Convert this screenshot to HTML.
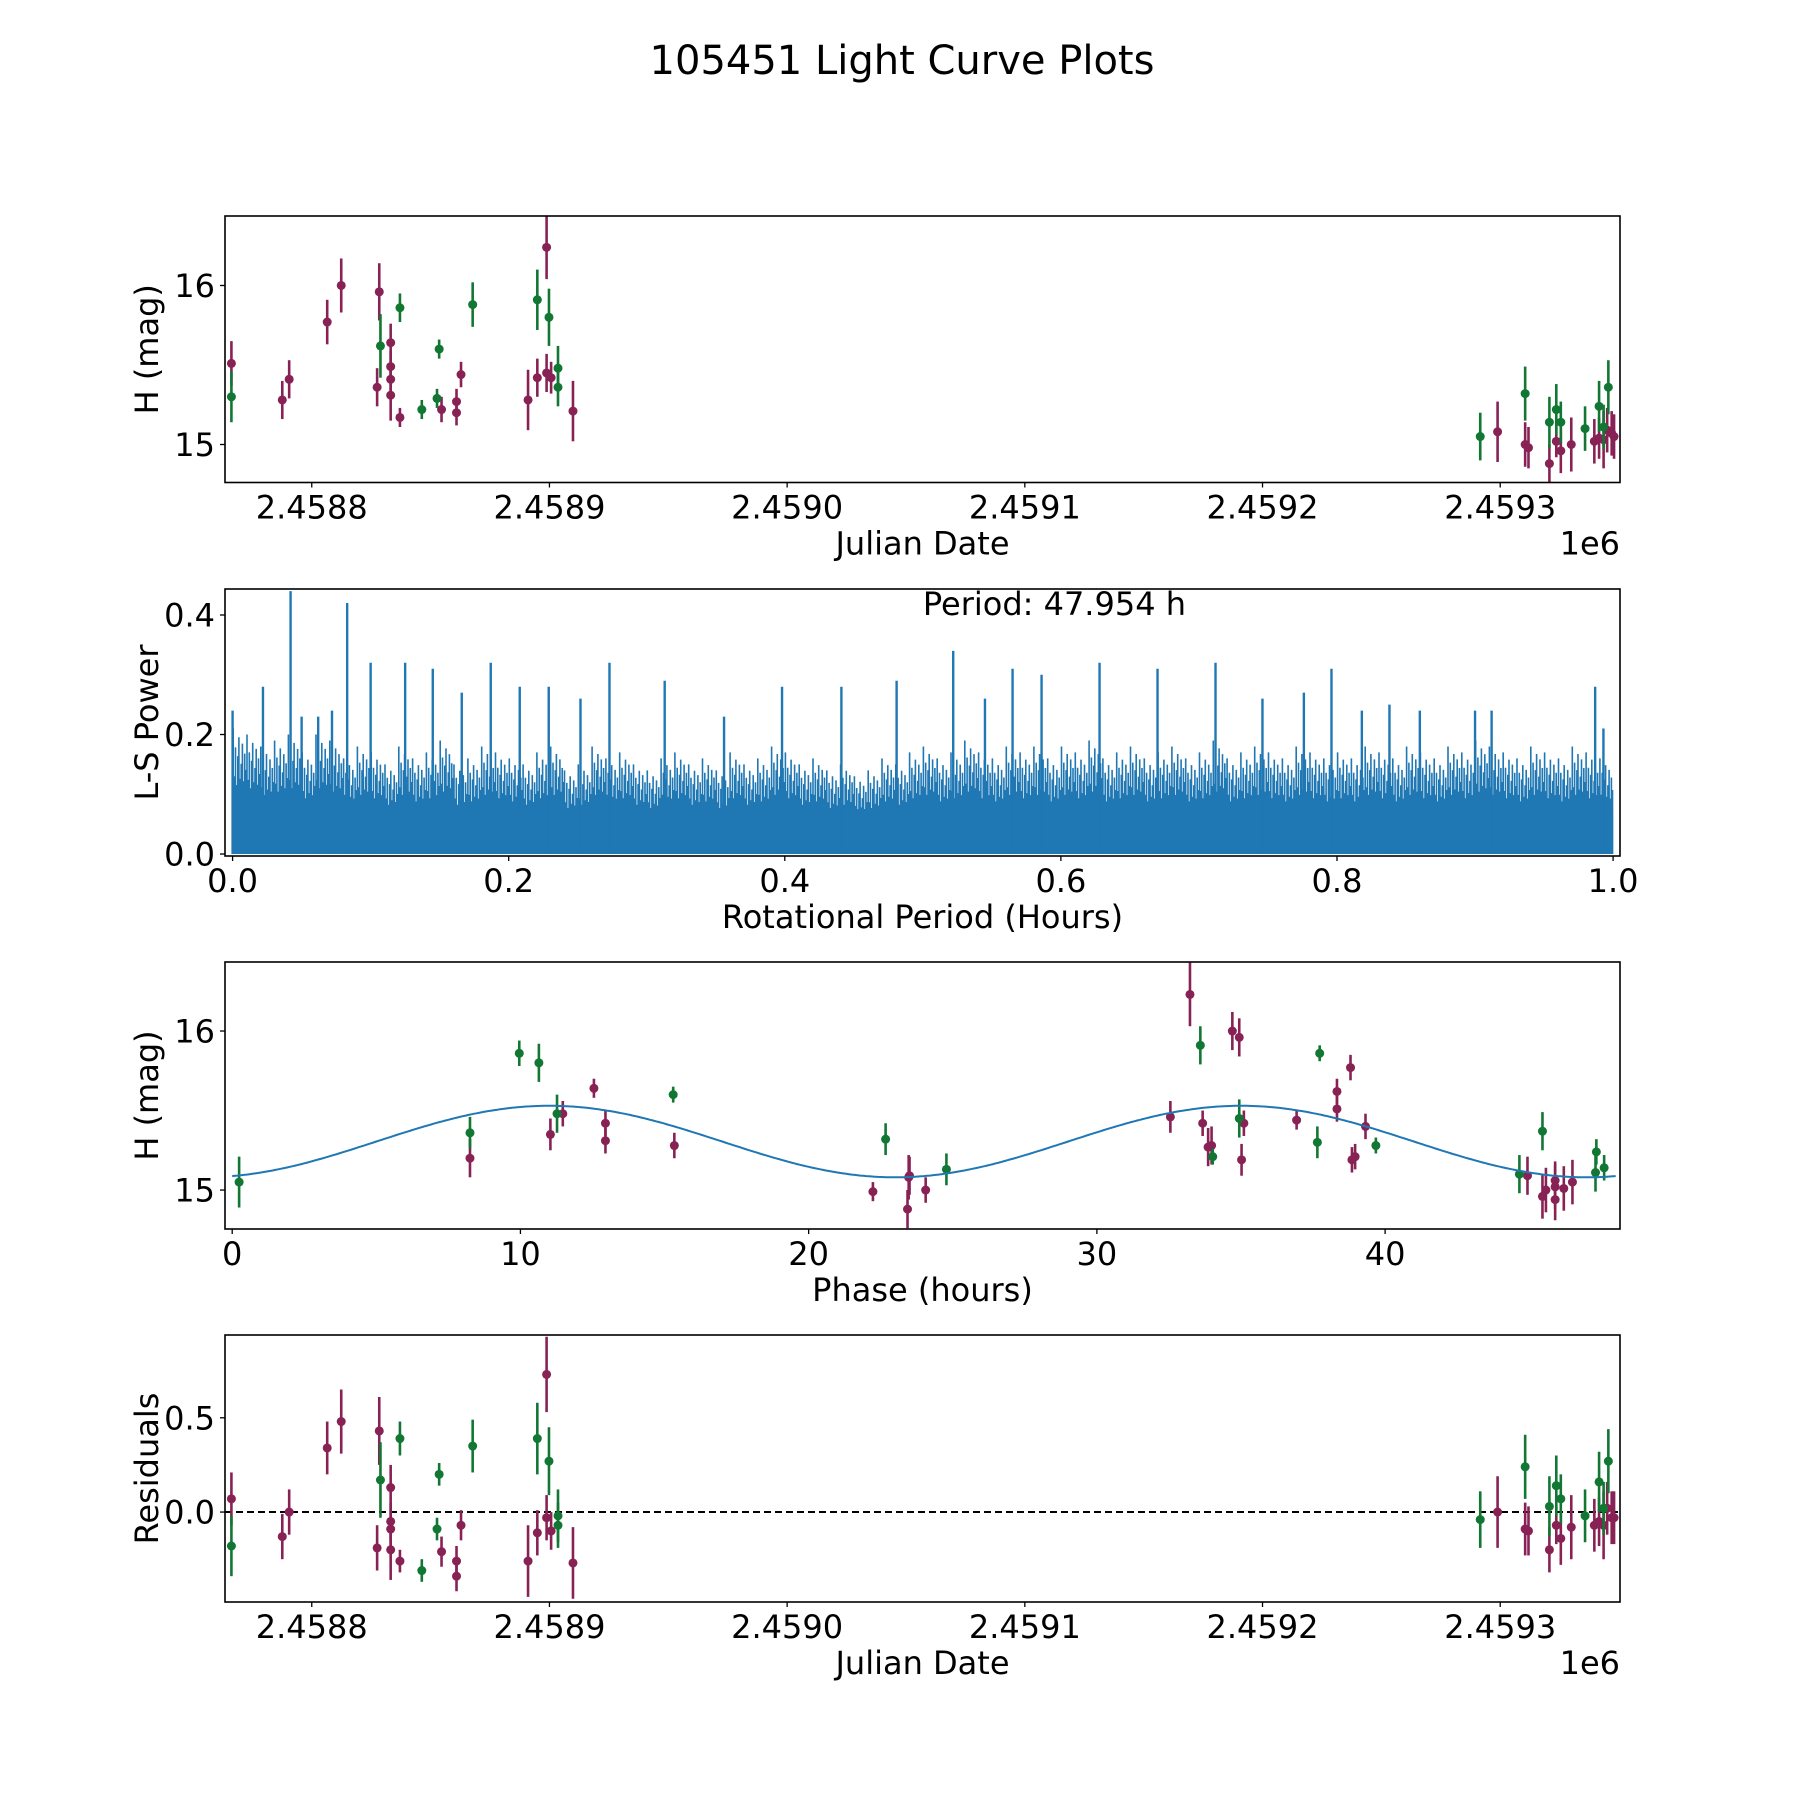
<!DOCTYPE html>
<html><head><meta charset="utf-8"><title>105451 Light Curve Plots</title>
<style>
html,body{margin:0;padding:0;background:#fff;}
svg{display:block;font-family:"DejaVu Sans","Liberation Sans",sans-serif;}
</style></head>
<body>
<svg id="fig" width="1800" height="1800" viewBox="0 0 1800 1800" xmlns="http://www.w3.org/2000/svg">
<rect width="1800" height="1800" fill="#fff"/>
<text x="902" y="74" font-size="40" text-anchor="middle">105451 Light Curve Plots</text>
</svg>
<script>
// ---------- DATA ----------
const jdBase = 2458800;
// maroon series: days since jdBase, magnitude, error, residual
const tMaroon = [-33.8,-12.4,-9.5,6.5,12.4,28.4,27.5,33.2,33.2,33.2,33.2,37.1,54.6,60.9,60.9,62.8,91.0,94.9,98.8,98.8,100.7,109.9,498.9,510.5,511.9,520.7,523.6,525.5,529.9,539.6,541.6,543.5,545.0,546.9,547.9];
const magMaroon = [15.51,15.28,15.41,15.77,16.0,15.96,15.36,15.64,15.49,15.41,15.31,15.17,15.22,15.27,15.20,15.44,15.28,15.42,16.24,15.45,15.42,15.21,15.08,15.0,14.98,14.88,15.02,14.96,15.0,15.02,15.04,15.03,15.09,15.07,15.05];
const errMaroon = [0.14,0.12,0.12,0.14,0.17,0.18,0.12,0.12,0.1,0.1,0.16,0.06,0.08,0.08,0.08,0.08,0.19,0.12,0.2,0.12,0.1,0.19,0.19,0.14,0.13,0.12,0.1,0.14,0.17,0.14,0.13,0.18,0.14,0.14,0.14];
const resMaroon = [0.07,-0.13,0.0,0.34,0.48,0.43,-0.19,0.13,-0.05,-0.09,-0.2,-0.26,-0.21,-0.26,-0.34,-0.07,-0.26,-0.11,0.73,-0.03,-0.1,-0.27,0.0,-0.09,-0.1,-0.2,-0.07,-0.14,-0.08,-0.07,-0.05,-0.07,0.02,-0.03,-0.03];
// green series
const tGreen = [-33.8,28.9,37.1,46.3,52.7,53.6,67.7,94.9,99.8,103.6,103.6,491.6,510.5,520.7,523.6,525.5,535.7,541.6,543.5,545.5];
const magGreen = [15.30,15.62,15.86,15.22,15.29,15.60,15.88,15.91,15.80,15.48,15.36,15.05,15.32,15.14,15.22,15.14,15.10,15.24,15.11,15.36];
const errGreen = [0.16,0.2,0.09,0.06,0.06,0.06,0.14,0.19,0.18,0.14,0.12,0.15,0.17,0.16,0.16,0.13,0.14,0.16,0.14,0.17];
const resGreen = [-0.18,0.17,0.39,-0.31,-0.09,0.2,0.35,0.39,0.27,-0.02,-0.07,-0.04,0.24,0.03,0.14,0.07,-0.02,0.16,0.02,0.27];
// phase-folded
const phMaroon = [8.25,11.04,11.47,12.55,12.95,12.95,15.34,22.23,23.47,23.5,23.43,24.06,32.55,33.23,33.67,33.86,33.98,34.7,34.94,35.02,35.1,36.93,38.33,38.33,38.8,38.85,38.96,39.32,44.94,45.46,45.58,45.9,45.9,45.9,46.2,46.5];
const phMagMaroon = [15.20,15.35,15.48,15.64,15.42,15.31,15.28,14.99,15.08,15.09,14.88,15.0,15.46,16.23,15.42,15.27,15.28,16.0,15.96,15.19,15.42,15.44,15.51,15.62,15.77,15.19,15.21,15.40,15.09,14.96,15.0,15.02,14.94,15.06,15.01,15.05];
const phErrMaroon = [0.12,0.1,0.08,0.06,0.08,0.08,0.08,0.06,0.14,0.12,0.12,0.08,0.1,0.2,0.08,0.12,0.12,0.12,0.12,0.1,0.08,0.06,0.08,0.08,0.08,0.08,0.08,0.08,0.12,0.14,0.14,0.14,0.13,0.12,0.14,0.14];
const phGreen = [0.24,8.25,9.96,10.64,11.27,15.3,22.67,24.78,33.59,34.02,34.94,37.65,37.73,39.68,44.66,45.46,47.3,47.33,47.6];
const phMagGreen = [15.05,15.36,15.86,15.80,15.48,15.60,15.32,15.13,15.91,15.21,15.45,15.30,15.86,15.28,15.10,15.37,15.11,15.24,15.14];
const phErrGreen = [0.16,0.1,0.08,0.12,0.12,0.05,0.1,0.1,0.12,0.05,0.12,0.1,0.05,0.05,0.12,0.12,0.12,0.08,0.08];
const fitMean = 15.305, fitAmp = 0.225, fitPeakPhase = 11.0, fitCycle = 24.0;
// periodogram
const lsSpikePeriod = [0.0,0.022,0.042,0.05,0.062,0.072,0.083,0.10,0.125,0.145,0.166,0.187,0.208,0.229,0.252,0.273,0.313,0.356,0.398,0.441,0.481,0.522,0.545,0.565,0.586,0.628,0.67,0.712,0.746,0.776,0.796,0.818,0.838,0.86,0.90,0.912,0.987,0.993];
const lsSpikePower = [0.24,0.28,0.44,0.23,0.23,0.24,0.42,0.32,0.32,0.31,0.27,0.32,0.28,0.28,0.26,0.32,0.29,0.23,0.28,0.28,0.29,0.34,0.26,0.31,0.30,0.32,0.31,0.32,0.26,0.27,0.31,0.24,0.25,0.24,0.24,0.24,0.28,0.21];
const lsBinPeak = [0.21,0.2,0.18,0.19,0.2,0.17,0.2,0.19,0.16,0.18,0.17,0.15,0.18,0.16,0.17,0.19,0.15,0.16,0.18,0.17,
 0.16,0.15,0.17,0.18,0.14,0.15,0.18,0.16,0.17,0.15,0.14,0.16,0.17,0.15,0.16,0.14,0.17,0.15,0.16,0.18,
 0.17,0.15,0.16,0.14,0.15,0.13,0.14,0.16,0.15,0.17,0.18,0.16,0.17,0.19,0.17,0.16,0.18,0.17,0.18,0.16,
 0.18,0.17,0.19,0.16,0.17,0.18,0.16,0.17,0.18,0.16,0.17,0.19,0.16,0.17,0.18,0.17,0.16,0.18,0.17,0.16,
 0.17,0.16,0.18,0.17,0.16,0.18,0.17,0.16,0.18,0.17,0.19,0.18,0.17,0.16,0.18,0.17,0.16,0.18,0.17,0.16];
const lsBaseLevel = 0.075;
const lsSubPattern = [1,0.62,0.85,0.55,0.78,0.93,0.6,0.72,0.88,0.58,0.8,0.67];
// ticks
const jdTickValues = [2458800,2458900,2459000,2459100,2459200,2459300];
const jdTickLabels = ["2.4588","2.4589","2.4590","2.4591","2.4592","2.4593"];
const magTicks = [15,16];
const powerTicks = [0.0,0.2,0.4];
const periodTicks = [0.0,0.2,0.4,0.6,0.8,1.0];
const phaseTicks = [0,10,20,30,40];
const resTicks = [0.0,0.5];

// ---------- DRAW ----------
const NS = "http://www.w3.org/2000/svg";
const svg = document.getElementById('fig');
function el(tag, attrs, parent){ const e=document.createElementNS(NS,tag); for(const k in attrs) e.setAttribute(k,attrs[k]); (parent||svg).appendChild(e); return e; }
const L=225, R=1620;
const MAROON="#882255", GREEN="#117733", BLUE="#1f77b4";
function scale(d0,d1,p0,p1){ return v => p0 + (v-d0)/(d1-d0)*(p1-p0); }

function axesFrame(g,top,bot){
  const r=el('rect',{x:L,y:top,width:R-L,height:bot-top,fill:'none',stroke:'#000','stroke-width':1.6},g);
   
}
function xTicks(g,xs,vals,labels,bot,name){
  vals.forEach((v,i)=>{
    const x=xs(v);
    const t=el('line',{x1:x,x2:x,y1:bot,y2:bot+5,stroke:'#000','stroke-width':1.3},g);
     
    const tx=el('text',{x:x,y:bot+36,'font-size':32,'text-anchor':'middle'},g);
    tx.textContent=labels[i];
     
  });
}
function yTicks(g,ys,vals,labels,name){
  vals.forEach((v,i)=>{
    const y=ys(v);
    const t=el('line',{x1:L-5,x2:L,y1:y,y2:y,stroke:'#000','stroke-width':1.3},g);
     
    const tx=el('text',{x:L-10,y:y+11.5,'font-size':32,'text-anchor':'end'},g);
    tx.textContent=labels[i];
     
  });
}
function xLabel(g,text,bot,name){
  const t=el('text',{x:(L+R)/2,y:bot+72,'font-size':32,'text-anchor':'middle'},g);
  t.textContent=text;  
}
function yLabel(g,text,top,bot,name){
  const cy=(top+bot)/2;
  const t=el('text',{x:158,y:cy,'font-size':32,'text-anchor':'middle',transform:`rotate(-90 158 ${cy})`},g);
  t.textContent=text;  
}
function offsetLabel(g,bot){
  const t=el('text',{x:R,y:bot+72,'font-size':32,'text-anchor':'end'},g);
  t.textContent='1e6';  
}
function errPoints(g,xsArr,ysArr,errArr,xs,ys,color,name,clip){
  xsArr.forEach((xv,i)=>{
    const x=xs(xv), y=ys(ysArr[i]);
    const ln=el('line',{x1:x,x2:x,y1:ys(ysArr[i]-errArr[i]),y2:ys(ysArr[i]+errArr[i]),stroke:color,'stroke-width':2.6,'clip-path':clip},g);
     
    const c=el('circle',{cx:x,cy:y,r:4.5,fill:color,'clip-path':clip},g);
     
  });
}
function clip(id,top,bot){
  const cp=el('clipPath',{id:id}); el('rect',{x:L,y:top,width:R-L,height:bot-top},cp);
  return `url(#${id})`;
}

// Panel 1: light curve vs JD
(function(){
  const top=216,bot=482.5;
  const g=el('g',{});  
  const xs=scale(2458763.5,2459350.4,L,R), ys=scale(14.761,16.437,bot,top);
  const cl=clip('c1',top,bot);
  errPoints(g,tMaroon.map(t=>t+jdBase),magMaroon,errMaroon,xs,ys,MAROON,'maroon',cl);
  errPoints(g,tGreen.map(t=>t+jdBase),magGreen,errGreen,xs,ys,GREEN,'green',cl);
  axesFrame(g,top,bot);
  xTicks(g,xs,jdTickValues,jdTickLabels,bot,'x-jd');
  yTicks(g,ys,magTicks,magTicks.map(String),'y-mag');
  xLabel(g,'Julian Date',bot,'x-axis-title'); offsetLabel(g,bot);
  yLabel(g,'H (mag)',top,bot,'y-axis-title');
})();

// Panel 2: periodogram
(function(){
  const top=589,bot=856;
  const g=el('g',{});  
  const xs=scale(-0.0055,1.005,L,R), ys=scale(-0.0033,0.4435,bot,top);
  const cl=clip('c2',top,bot);
  const base=el('rect',{x:xs(0),y:ys(lsBaseLevel),width:xs(1)-xs(0),height:ys(0)-ys(lsBaseLevel),fill:BLUE,'clip-path':cl},g);
   
  let d='';
  const nb=lsBinPeak.length, ns=lsSubPattern.length;
  lsBinPeak.forEach((p,i)=>{
    lsSubPattern.forEach((f,j)=>{
      const pv=(i+(j+0.5)/ns)/nb;
      d+=`M${xs(pv).toFixed(1)},${ys(0).toFixed(1)}V${ys(p*f).toFixed(1)}`;
    });
  });
  const body=el('path',{d:d,stroke:BLUE,'stroke-width':1.6,fill:'none','clip-path':cl},g);
   
  lsSpikePeriod.forEach((pv,i)=>{
    const s=el('line',{x1:xs(pv),x2:xs(pv),y1:ys(0),y2:ys(lsSpikePower[i]),stroke:BLUE,'stroke-width':2.4,'clip-path':cl},g);
     
  });
  axesFrame(g,top,bot);
  xTicks(g,xs,periodTicks,periodTicks.map(v=>v.toFixed(1)),bot,'x-period');
  yTicks(g,ys,powerTicks,powerTicks.map(v=>v.toFixed(1)),'y-power');
  xLabel(g,'Rotational Period (Hours)',bot,'x-axis-title');
  yLabel(g,'L-S Power',top,bot,'y-axis-title');
  const t=el('text',{x:xs(0.5),y:ys(0.4),'font-size':32},g);
  t.textContent='Period: 47.954 h';  
})();

// Panel 3: phase folded
(function(){
  const top=962,bot=1229;
  const g=el('g',{});  
  const xs=scale(-0.25,48.15,L,R), ys=scale(14.755,16.434,bot,top);
  const cl=clip('c3',top,bot);
  let d='';
  for(let k=0;k<=480;k++){ const p=k/10; const m=fitMean+fitAmp*Math.cos(2*Math.PI*(p-fitPeakPhase)/fitCycle); d+=(k?'L':'M')+xs(p).toFixed(1)+','+ys(m).toFixed(1); }
  errPoints(g,phMaroon,phMagMaroon,phErrMaroon,xs,ys,MAROON,'maroon-phase',cl);
  errPoints(g,phGreen,phMagGreen,phErrGreen,xs,ys,GREEN,'green-phase',cl);
  const fit=el('path',{d:d,stroke:BLUE,'stroke-width':2,fill:'none','clip-path':cl},g);
   
  axesFrame(g,top,bot);
  xTicks(g,xs,phaseTicks,phaseTicks.map(String),bot,'x-phase');
  yTicks(g,ys,magTicks,magTicks.map(String),'y-mag');
  xLabel(g,'Phase (hours)',bot,'x-axis-title');
  yLabel(g,'H (mag)',top,bot,'y-axis-title');
})();

// Panel 4: residuals
(function(){
  const top=1335,bot=1602;
  const g=el('g',{});  
  const xs=scale(2458763.5,2459350.4,L,R), ys=scale(-0.477,0.939,bot,top);
  const cl=clip('c4',top,bot);
  const z=el('line',{x1:L,x2:R,y1:ys(0),y2:ys(0),stroke:'#000','stroke-width':2,'stroke-dasharray':'7,4'},g);
   
  errPoints(g,tMaroon.map(t=>t+jdBase),resMaroon,errMaroon,xs,ys,MAROON,'maroon-residual',cl);
  errPoints(g,tGreen.map(t=>t+jdBase),resGreen,errGreen,xs,ys,GREEN,'green-residual',cl);
  axesFrame(g,top,bot);
  xTicks(g,xs,jdTickValues,jdTickLabels,bot,'x-jd');
  yTicks(g,ys,resTicks,resTicks.map(v=>v.toFixed(1)),'y-residual');
  xLabel(g,'Julian Date',bot,'x-axis-title'); offsetLabel(g,bot);
  yLabel(g,'Residuals',top,bot,'y-axis-title');
})();
</script>
</body></html>
